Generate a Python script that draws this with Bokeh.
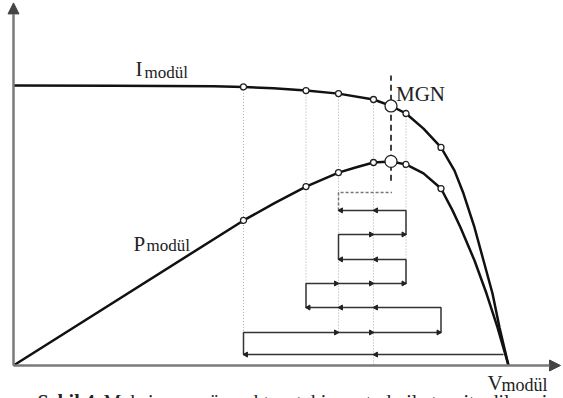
import numpy as np
from bokeh.plotting import figure
from bokeh.models import Range1d, Label, Arrow, NormalHead
from bokeh.embed import file_html
from bokeh.resources import INLINE

# ---- data (voltage units, current/power units) ----
i_v = [0, 20, 40, 46, 52, 58.5, 65, 72, 75.5, 78.5, 82, 85.5, 88.2, 90, 92.2, 94, 95.8, 97.2, 99]
i_y = [100, 99.9, 99.7, 99.5, 99.0, 98.2, 97.1, 95, 92.7, 90, 84.6, 77.9, 69.6, 61.4, 49.3, 37.5, 25.7, 13.6, 0]

p_v = [0, 46, 52.2, 58.5, 65, 68.4, 72, 75.5, 78.5, 82, 85.5, 87.8, 89.4, 92.2, 94.6, 96.8, 99]
p_y = [0, 51.8, 58, 63.9, 68.9, 70.7, 72.5, 72.9, 71.8, 68.6, 63.2, 55.4, 49.3, 37.5, 25.7, 13.6, 0]

# sampled operating points
pt_i_v = [46, 58.5, 65, 72, 78.5, 85.5]
pt_i_y = [99.5, 98.2, 97.1, 95, 90, 77.9]
pt_p_v = [46, 58.5, 65, 72, 78.5, 85.5]
pt_p_y = [51.8, 63.9, 68.9, 72.5, 71.8, 63.2]

# maximum power point
mpp_v = 75.5
mpp_i = 92.7
mpp_p = 72.9
mpp_line = [66, 103.6]

# dotted guide lines: voltage, top, bottom
guide_v = [46, 58.5, 65, 72, 78.5]
guide_top = [99.5, 98.2, 97.1, 95, 90]
guide_bot = [11.8, 29.3, 11.8, 0, 29.3]

# hill-climbing path
path_v = [98, 46, 46, 85.5, 85.5, 58.5, 58.5, 78.5, 78.5, 65, 65, 78.5, 78.5, 65]
path_y = [3.9, 3.9, 11.8, 11.8, 20.7, 20.7, 29.3, 29.3, 37.9, 37.9, 46.8, 46.8, 55.4, 55.4]
tail_v = [65, 65, 75.7]
tail_y = [55.4, 61.8, 61.8]

# step arrowheads (tip voltage, level, direction: -1 left, +1 right)
arr_v = [72, 46, 65, 72, 85.5, 58.5, 65, 72, 65, 72, 78.5, 65, 72, 72, 78.5, 65, 72]
arr_y = [3.9, 3.9, 11.8, 11.8, 11.8, 20.7, 20.7, 20.7, 29.3, 29.3, 29.3, 37.9, 37.9, 46.8, 46.8, 55.4, 55.4]
arr_d = [-1, -1, 1, 1, 1, -1, -1, -1, 1, 1, 1, -1, -1, 1, 1, -1, -1]

p = figure(width=563, height=398, x_range=Range1d(-2.6, 110), y_range=Range1d(-11.786, 130.357),
           output_backend="svg", toolbar_location=None, min_border=0)
p.axis.visible = False
p.grid.visible = False
p.outline_line_color = None
p.background_fill_color = "white"

# axes with arrows
axc = "#7a7a7a"
p.add_layout(Arrow(end=NormalHead(size=11, fill_color="#444", line_color="#444"),
                   x_start=0, y_start=0, x_end=0, y_end=129.5,
                   line_color=axc, line_width=2.5))
p.add_layout(Arrow(end=NormalHead(size=11, fill_color="#444", line_color="#444"),
                   x_start=0, y_start=0, x_end=109.4, y_end=0,
                   line_color=axc, line_width=2.5))

# guides
p.segment(x0=guide_v, y0=guide_top, x1=guide_v, y1=guide_bot,
          line_color="#aaaaaa", line_width=1, line_dash="1 2")

# path
p.line(path_v, path_y, line_color="#333333", line_width=1.5)
p.line(tail_v, tail_y, line_color="#777777", line_width=1.5, line_dash="3 2")
ang = [np.pi / 2 if d < 0 else -np.pi / 2 for d in arr_d]
cx = [v - d * 0.5 for v, d in zip(arr_v, arr_d)]
p.scatter(cx, arr_y, marker="triangle", size=5, angle=ang,
          fill_color="#222222", line_color="#222222")

# curves
p.line(i_v, i_y, line_color="#111111", line_width=2.5)
p.line(p_v, p_y, line_color="#111111", line_width=2.5)

# MPP dashed
p.line([mpp_v, mpp_v], mpp_line, line_color="#111111", line_width=1.6, line_dash="6 4")

p.scatter(pt_i_v, pt_i_y, size=6, fill_color="white", line_color="#222222", line_width=1.3)
p.scatter(pt_p_v, pt_p_y, size=6, fill_color="white", line_color="#222222", line_width=1.3)
p.scatter([mpp_v, mpp_v], [mpp_i, mpp_p], size=12, fill_color="white",
          line_color="#222222", line_width=1.3)

font = "Liberation Serif"
def lab(x, y, t, size, style="normal"):
    p.add_layout(Label(x=x, y=y, text=t, text_font=font, text_font_size=f"{size}px",
                       text_font_style=style, text_color="#222222",
                       text_baseline="alphabetic", text_align="left"))

lab(24.4, 105.9, "I", 21)
lab(26.2, 104.6, "modül", 17)
lab(24.0, 43.3, "P", 21)
lab(26.6, 42.7, "modül", 17)
lab(76.5, 96.9, "MGN", 21)
lab(94.8, -6.4, "V", 21)
lab(97.6, -7.1, "modül", 18)
lab(4.8, -13.2, "Şekil 4", 20, "bold")
lab(18.0, -13.2, "Maksimum güç noktası takip metodu ile tespit edilmesi", 20)

open("out.html", "w").write(file_html(p, INLINE))
